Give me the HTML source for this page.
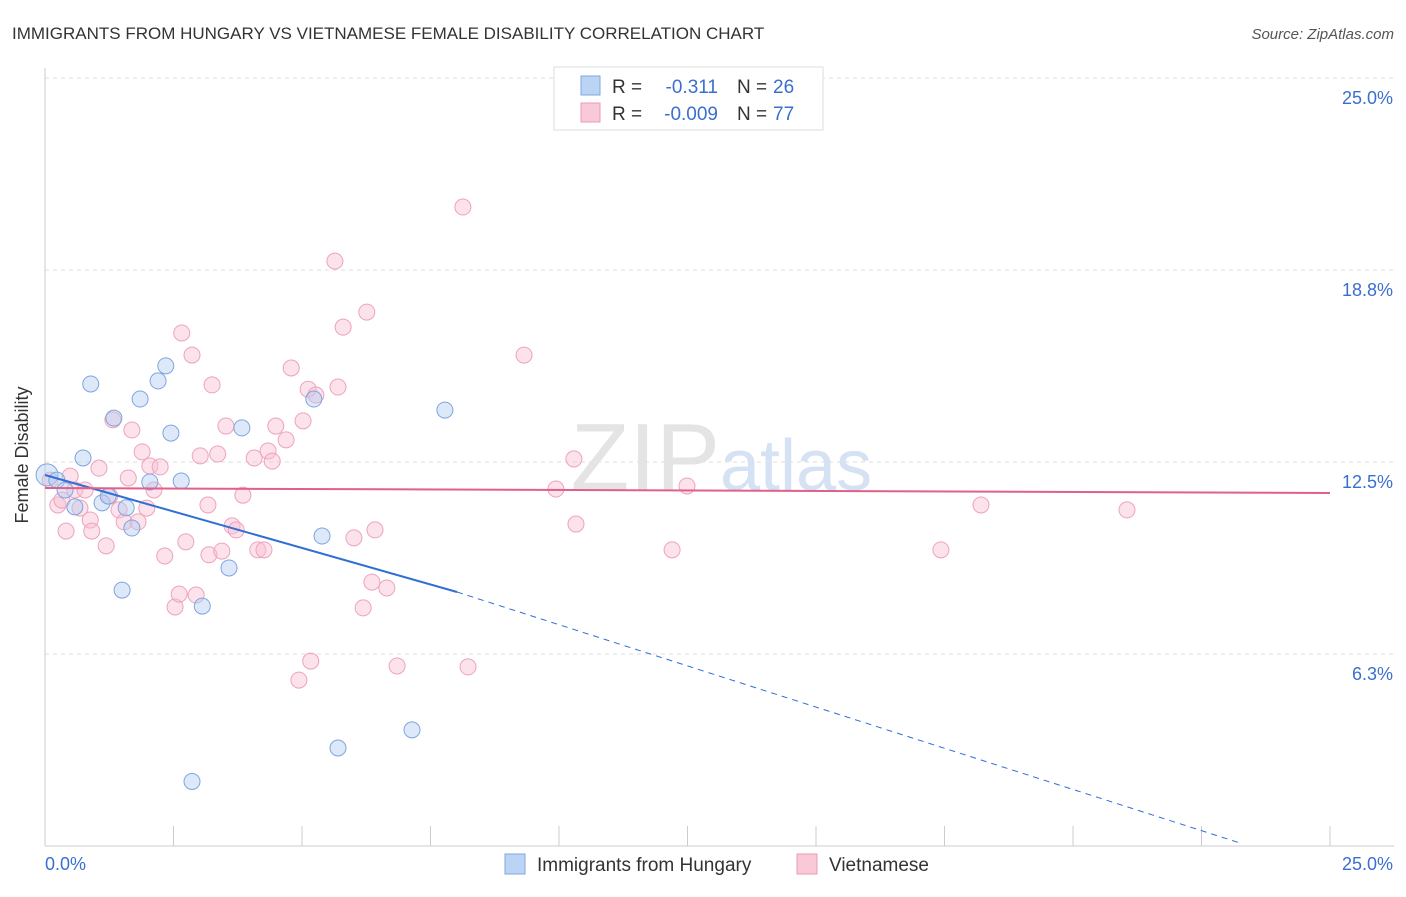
<!DOCTYPE html>
<html><head><meta charset="utf-8"><style>
body{margin:0;background:#fff;font-family:"Liberation Sans",sans-serif;}
svg text{font-family:"Liberation Sans",sans-serif;}
</style></head><body>
<svg width="1406" height="892" xmlns="http://www.w3.org/2000/svg">
<text x="12" y="39" font-size="17" fill="#333">IMMIGRANTS FROM HUNGARY VS VIETNAMESE FEMALE DISABILITY CORRELATION CHART</text>
<text x="1394" y="39" font-size="15" fill="#555" font-style="italic" text-anchor="end">Source: ZipAtlas.com</text>
<g id="grid"></g>
<text x="720" y="490" font-size="96" fill="#e4e4e4" text-anchor="end" font-family="Liberation Serif">ZIP</text>
<text x="720" y="490" font-size="72" fill="#d4e2f4">atlas</text>
<g id="axes"></g>
<g id="marks"></g>
<text x="28" y="455" font-size="18" fill="#333" text-anchor="middle" transform="rotate(-90 28 455)">Female Disability</text>
<g>
<rect x="554" y="67" width="269" height="63" fill="#fff" stroke="#ddd"/>
<rect x="581" y="76" width="19" height="19" fill="#bcd4f4" stroke="#7fa6e0"/>
<rect x="581" y="103" width="19" height="19" fill="#f9c9d8" stroke="#eb9ab4"/>
<text x="612" y="93" font-size="19" fill="#333">R = </text><text x="718" y="93" font-size="19" fill="#3a6fd0" text-anchor="end">-0.311</text>
<text x="737" y="93" font-size="19" fill="#333">N = </text><text x="773" y="93" font-size="19" fill="#3a6fd0">26</text>
<text x="612" y="120" font-size="19" fill="#333">R = </text><text x="718" y="120" font-size="19" fill="#3a6fd0" text-anchor="end">-0.009</text>
<text x="737" y="120" font-size="19" fill="#333">N = </text><text x="773" y="120" font-size="19" fill="#3a6fd0">77</text>
</g>
<g>
<rect x="505" y="854" width="20" height="20" fill="#bcd4f4" stroke="#7fa6e0"/>
<text x="537" y="871" font-size="19" fill="#333">Immigrants from Hungary</text>
<rect x="797" y="854" width="20" height="20" fill="#f9c9d8" stroke="#eb9ab4"/>
<text x="829" y="871" font-size="19" fill="#333">Vietnamese</text>
</g>
</svg>
<script>
const yTicks=[6.3,12.5,18.8,25.0];
const yTickLabels=["6.3%","12.5%","18.8%","25.0%"];
const blueX=[0.04,0.23,0.39,0.58,0.74,0.89,1.11,1.23,1.34,1.50,1.58,1.69,1.85,2.04,2.20,2.35,2.45,2.65,2.86,3.06,3.58,3.83,5.23,5.39,5.70,7.14,7.78];
const blueY=[12.08,11.91,11.59,11.04,12.63,15.04,11.17,11.39,13.93,8.33,11.01,10.35,14.55,11.85,15.14,15.63,13.44,11.88,2.10,7.81,9.05,13.61,14.55,10.09,3.19,3.78,14.19];
const pinkX=[0.10,0.25,0.33,0.41,0.49,0.58,0.68,0.78,0.88,0.91,1.05,1.19,1.26,1.32,1.44,1.54,1.62,1.69,1.81,1.89,1.98,2.04,2.12,2.24,2.33,2.53,2.61,2.66,2.74,2.86,2.94,3.02,3.17,3.19,3.25,3.36,3.44,3.52,3.64,3.72,3.85,4.07,4.14,4.26,4.34,4.42,4.49,4.69,4.79,4.94,5.02,5.12,5.17,5.27,5.64,5.70,5.80,6.01,6.19,6.26,6.36,6.42,6.65,6.85,8.13,8.23,9.32,9.94,10.29,10.33,12.20,12.49,17.43,18.21,21.05];
const pinkY=[11.91,11.10,11.26,10.25,12.04,11.59,11.00,11.59,10.61,10.25,12.30,9.77,11.39,13.87,10.94,10.55,11.98,13.54,10.55,12.83,11.00,12.37,11.59,12.34,9.44,7.78,8.20,16.70,9.90,15.98,8.17,12.70,11.10,9.48,15.01,12.76,9.60,13.67,10.42,10.29,11.42,12.63,9.64,9.64,12.86,12.53,13.67,13.22,15.56,5.40,13.84,14.87,6.02,14.68,19.04,14.94,16.89,10.03,7.75,17.38,8.59,10.29,8.40,5.86,20.80,5.83,15.98,11.62,12.60,10.48,9.64,11.72,9.64,11.10,10.94];
const X=v=>45+v*51.4, Y=v=>846-v*30.72;
const NS="http://www.w3.org/2000/svg";
function mk(t,a,p){const e=document.createElementNS(NS,t);for(const k in a)e.setAttribute(k,a[k]);p.appendChild(e);return e;}
const grid=document.getElementById('grid'),axes=document.getElementById('axes'),marks=document.getElementById('marks');
yTicks.forEach((t,i)=>{const yy=t===25?78:t===18.8?270:t===12.5?462:654;
const l=mk('line',{x1:45,x2:1394,y1:yy,y2:yy,stroke:'#ddd','stroke-dasharray':'4,4'},grid);


const tx=mk('text',{x:1393,y:yy+26,'font-size':18,fill:'#3a6fd0','text-anchor':'end'},axes);tx.textContent=yTickLabels[i];

});
mk('line',{x1:45,x2:45,y1:68,y2:846,stroke:'#ccc'},axes);
mk('line',{x1:45,x2:1394,y1:846,y2:846,stroke:'#ccc'},axes);
for(let i=0;i<=10;i++){const t=mk('line',{x1:X(i*2.5),x2:X(i*2.5),y1:826,y2:846,stroke:'#ccc'},axes);

}
let t1=mk('text',{x:45,y:870,'font-size':18,fill:'#3a6fd0'},axes);t1.textContent='0.0%';


let t2=mk('text',{x:1393,y:870,'font-size':18,fill:'#3a6fd0','text-anchor':'end'},axes);t2.textContent='25.0%';


pinkX.forEach((x,i)=>{const c=mk('circle',{cx:X(x),cy:Y(pinkY[i]),r:8,fill:'rgba(249,190,210,0.45)',stroke:'#eea3bb','stroke-width':1},marks);

});
blueX.forEach((x,i)=>{const c=mk('circle',{cx:X(x),cy:Y(blueY[i]),r:i===0?11:8,fill:'rgba(180,205,242,0.45)',stroke:'#7ea5e0','stroke-width':1},marks);

});
const bl=mk('line',{x1:45,y1:475,x2:457,y2:592,stroke:'#2f6fd6','stroke-width':2},marks);


const bd=mk('line',{x1:457,y1:592,x2:1240,y2:843,stroke:'#2f6fd6','stroke-width':1,'stroke-dasharray':'6,5'},marks);


const pl=mk('line',{x1:45,y1:488,x2:1330,y2:493,stroke:'#e0608a','stroke-width':2},marks);


</script>
</body></html>
